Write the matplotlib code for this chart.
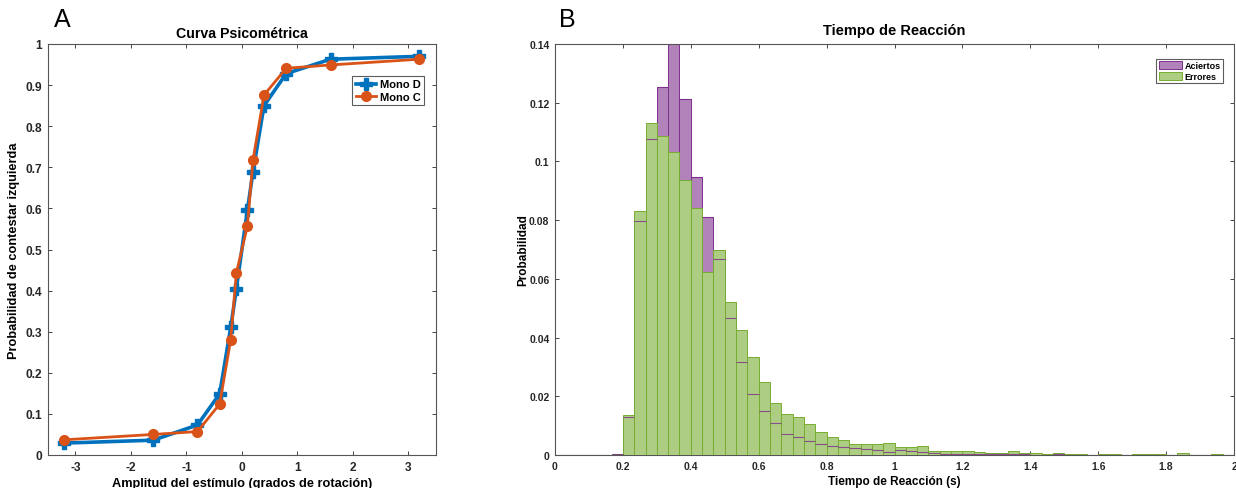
import matplotlib
matplotlib.use("Agg")
import matplotlib.pyplot as plt
import numpy as np
from matplotlib.patches import Patch

plt.rcParams['font.family'] = ['Liberation Sans', 'DejaVu Sans']

# ---- Panel A data ----
stim = [-3.2, -1.6, -0.8, -0.4, -0.2, -0.1, 0.1, 0.2, 0.4, 0.8, 1.6, 3.2]
mono_d = [0.029, 0.036, 0.073, 0.149, 0.311, 0.403, 0.596, 0.688, 0.850, 0.928, 0.963, 0.970]
mono_c = [0.037, 0.050, 0.057, 0.124, 0.281, 0.442, 0.557, 0.717, 0.876, 0.941, 0.949, 0.963]

# ---- Panel B data (60 bins, 0 to 2 s) ----
bin_edges = np.linspace(0, 2, 61)
errores = [0, 0, 0, 0, 0, 0.0005, 0.0135, 0.083, 0.113, 0.1087,
           0.1033, 0.0937, 0.0841, 0.0625, 0.0698, 0.052, 0.0427, 0.0333, 0.0247, 0.0176,
           0.0141, 0.013, 0.0104, 0.008, 0.0061, 0.0052, 0.0036, 0.0039, 0.0039, 0.0040,
           0.0026, 0.0026, 0.0032, 0.0015, 0.0013, 0.0014, 0.0014, 0.0011, 0.0007, 0.0008,
           0.0014, 0.0008, 0.0008, 0.0003, 0.0008, 0.0003, 0.0005, 0.0001, 0.0002, 0.0005,
           0.0, 0.0002, 0.0002, 0.0002, 0.0001, 0.0006, 0.0, 0.0, 0.0002, 0.0001]
aciertos = [0, 0, 0, 0, 0, 0.0003, 0.0129, 0.0796, 0.1076, 0.1252,
            0.1405, 0.1212, 0.0946, 0.081, 0.0666, 0.0465, 0.0317, 0.0207, 0.0151, 0.0108,
            0.0073, 0.0063, 0.0047, 0.0039, 0.0032, 0.0027, 0.0024, 0.002, 0.0018, 0.0011,
            0.0017, 0.0015, 0.001, 0.0007, 0.0005, 0.0004, 0.0004, 0.0003, 0.0002, 0.0003,
            0.0002, 0.0002, 0.0001, 0.0001, 0.0002, 0.0001, 0.0001, 0.0, 0.0001, 0.0001,
            0.0, 0.0001, 0.0, 0.0001, 0.0, 0.0001, 0.0, 0.0, 0.0001, 0.0001]

blue = '#0072BD'
orange = '#D95319'
purple_face = (0.698, 0.510, 0.733)
purple_edge = (0.494, 0.184, 0.556)
green_face = (0.680, 0.804, 0.513)
green_edge = (0.466, 0.674, 0.188)
axcol = '#262626'

fig = plt.figure(figsize=(12.36, 4.89), dpi=100)

def style(ax, fs, weight):
    ax.tick_params(direction='in', top=True, right=True, length=3, width=0.6,
                   colors=axcol, labelsize=fs, pad=4)
    for lab in ax.get_xticklabels() + ax.get_yticklabels():
        lab.set_fontweight(weight)
    for s in ax.spines.values():
        s.set_color('#555555')
        s.set_linewidth(0.8)

# ---- Panel A ----
axA = fig.add_axes([47.7/1236, 33/489, 388.3/1236, 411/489])
axA.plot(stim, mono_d, '-P', color=blue, lw=2.6, ms=8, label='Mono D')
axA.plot(stim, mono_c, '-o', color=orange, lw=2.0, ms=7, label='Mono C')
axA.set_xlim(-3.5, 3.5)
axA.set_ylim(0, 1)
axA.set_xticks([-3, -2, -1, 0, 1, 2, 3])
axA.set_xticklabels(['-3', '-2', '-1', '0', '1', '2', '3'])
axA.set_yticks(np.arange(0, 1.01, 0.1))
axA.set_yticklabels(['0'] + ['%.1f' % v for v in np.arange(0.1, 0.95, 0.1)] + ['1'])
style(axA, 8.6, 'bold')
axA.set_title('Curva Psicométrica', fontsize=10.2, fontweight='bold', pad=5)
axA.set_xlabel('Amplitud del estímulo (grados de rotación)', fontsize=9.2, fontweight='bold', labelpad=3)
axA.set_ylabel('Probabilidad de contestar izquierda', fontsize=9.2, fontweight='bold', labelpad=4)
legA = axA.legend(loc='upper right', bbox_to_anchor=(0.97, 0.922),
                  prop={'weight': 'bold', 'size': 8}, frameon=True, fancybox=False,
                  handlelength=1.8, borderpad=0.3, labelspacing=0.2, handletextpad=0.4,
                  borderaxespad=0)
legA.get_frame().set_edgecolor('#333333')
legA.get_frame().set_linewidth(0.8)

# ---- Panel B ----
axB = fig.add_axes([555/1236, 33/489, 679/1236, 411/489])
w = np.diff(bin_edges)
left = bin_edges[:-1]
axB.bar(left, aciertos, width=w, align='edge', color=purple_face,
        edgecolor=purple_edge, linewidth=0.7, zorder=2)
axB.bar(left, errores, width=w, align='edge', color=green_face,
        edgecolor=green_edge, linewidth=0.7, zorder=3)
axB.hlines(aciertos, left, left + w, colors=purple_edge, linewidth=0.8, alpha=0.8, zorder=4)
axB.set_xlim(0, 2)
axB.set_ylim(0, 0.14)
axB.set_xticks(np.arange(0, 2.01, 0.2))
axB.set_xticklabels(['0', '0.2', '0.4', '0.6', '0.8', '1', '1.2', '1.4', '1.6', '1.8', '2'])
axB.set_yticks(np.arange(0, 0.141, 0.02))
axB.set_yticklabels(['0', '0.02', '0.04', '0.06', '0.08', '0.1', '0.12', '0.14'])
style(axB, 7.5, 'bold')
axB.set_title('Tiempo de Reacción', fontsize=10.5, fontweight='bold', pad=7)
axB.set_xlabel('Tiempo de Reacción (s)', fontsize=8.5, fontweight='bold', labelpad=3)
axB.set_ylabel('Probabilidad', fontsize=8.5, fontweight='bold', labelpad=0)
handles = [Patch(facecolor=purple_face, edgecolor=purple_edge, linewidth=0.7, label='Aciertos'),
           Patch(facecolor=green_face, edgecolor=green_edge, linewidth=0.7, label='Errores')]
legB = axB.legend(handles=handles, loc='upper right', bbox_to_anchor=(0.984, 0.9635),
                  prop={'weight': 'bold', 'size': 6.5}, frameon=True, fancybox=False,
                  handlelength=2.6, handleheight=1.0, borderpad=0.25, labelspacing=0.15,
                  handletextpad=0.3, borderaxespad=0)
legB.get_frame().set_edgecolor('#333333')
legB.get_frame().set_linewidth(0.8)

fig.text(62/1236, 1 - 20/489, 'A', fontsize=18, ha='center', va='center')
fig.text(567/1236, 1 - 20/489, 'B', fontsize=18, ha='center', va='center')

fig.savefig('out.png', dpi=100)
